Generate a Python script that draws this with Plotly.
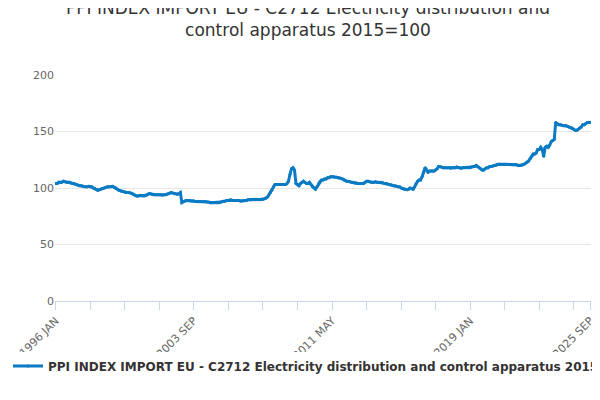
import plotly.graph_objects as go

start_year = 1996
values = [
104,104,105,105,105,106,105.5,105,105,105,104.5,104,
104,103.5,103,102.5,102,102,101.5,101,101,101,101.5,101,
101,100,99.5,99,98,98.5,99,99.5,100,100.5,101,101,
101,101,101.5,100.5,100,99,98,97.5,97,97,96.5,96,
96,96,95.5,95,94,93.5,93,93,93.5,93.5,93,93,
93.5,94,95,95,94.5,94,94,94,94,94,94,93.5,
94,94,94.5,95,95.5,96,95.5,95,95,94.5,95,96,
87,88,88.5,89,89,89,88.5,88.5,88.5,88,88,88,
88,88,88,88,88,87.5,87.5,87,87,87,87,87,
87,87,87.5,88,88,88.5,89,89,89.5,89.5,89,89,
89,89,89,88.5,88.5,89,89,89,89.5,89.5,89.5,90,
90,90,90,89.5,89.5,90,90,90.5,91,92,94,96,
98,101,103,103,103,103,103,103,103,103,104,106,
112,117,118,116,104,103,102,104,105,106,105,104,
104,105,103,101,100,99,101,104,106,107,107,108,
108,109,109,110,110,110,109.5,109.5,109,109,108.5,108,
107,106.5,106,106,105.5,105,105,104.5,104.5,104,104,104,
104,104,105,106,106,105.5,105,105,105,105.5,105,105,
105,105,104.5,104,104,103.5,103,103,102.5,102,102,101.5,
101,101,100,99.5,99,99,98.5,99,100,99.5,99,101,
104,106,107,107,110,114,118,116,114,115,115,115,
115,116,117,119,119,118.5,118,118,118,118,118,117.5,
118,118,118,118.5,118,118,117.5,118,118,118,118,118,
118,118.5,119,119,120,119,118,117,116,116,117,118,
118,119,119,119.5,120,120,121,121,121,121,121,121,
121,121,121,121,120.5,120.5,120.5,120.5,120,120,120,120.5,
121,122,123,124,126,128,130,130,131,134,134,136,
134,128,136,137,136,138,141,142,143,158,157,156,
156,155.5,155,155,155,154.5,154,153.5,153,152,151,151,
152,153,154,156,156,157,158,158,158,
]
months = ["JAN","FEB","MAR","APR","MAY","JUN","JUL","AUG","SEP","OCT","NOV","DEC"]
categories = [f"{start_year + i // 12} {months[i % 12]}" for i in range(len(values))]
tick_idx = list(range(0, len(values), 23))
tick_text = [categories[i] if k % 4 == 0 else "" for k, i in enumerate(tick_idx)]
if tick_idx[-1] != len(values) - 1:
    tick_idx.append(len(values) - 1)
    tick_text.append(categories[-1])

name = "<b>PPI INDEX IMPORT EU - C2712 Electricity distribution and control apparatus 2015=100</b>"
fig = go.Figure(go.Scatter(
    x=categories, y=values, mode="lines+markers", name=name,
    line=dict(color="#0a7bc4", width=3), marker=dict(size=3, color="#0a7bc4"),
))
fig.update_layout(
    width=600, height=400, plot_bgcolor="white", paper_bgcolor="white",
    margin=dict(l=47, r=17, t=67, b=107, autoexpand=False),
    font=dict(family="DejaVu Sans", color="#333333"),
    title=dict(text="PPI INDEX IMPORT EU - C2712 Electricity distribution and<br>control apparatus 2015=100",
               x=0.5, xanchor="center", yref="container", y=0.985, yanchor="top",
               font=dict(size=17, color="#333333")),
    showlegend=True,
    legend=dict(orientation="h", xref="container", x=-0.055, xanchor="left",
                yref="container", y=0.105, yanchor="middle",
                font=dict(size=12, color="#333333"), itemwidth=30),
    annotations=[dict(text="Source:", xref="paper", yref="paper", x=1.035, y=-0.42,
                      xanchor="right", yanchor="top", showarrow=False,
                      font=dict(size=12, color="#666666"))],
)
fig.update_xaxes(type="category", tickmode="array", tickvals=[categories[i] for i in tick_idx],
                 ticktext=tick_text, tickangle=-45, showgrid=False, showline=True, automargin=False,
                 linecolor="#ccd6eb", ticks="outside", ticklen=8, tickcolor="#ccd6eb",
                 tickfont=dict(size=11, color="#666666"), range=[-0.5, len(values) - 0.5])
fig.update_yaxes(range=[0, 200], tickvals=[0, 50, 100, 150, 200], showgrid=True, automargin=False,
                 gridcolor="#e6e6e6", zeroline=False, tickfont=dict(size=11, color="#666666"))
fig.write_html("out.html")
